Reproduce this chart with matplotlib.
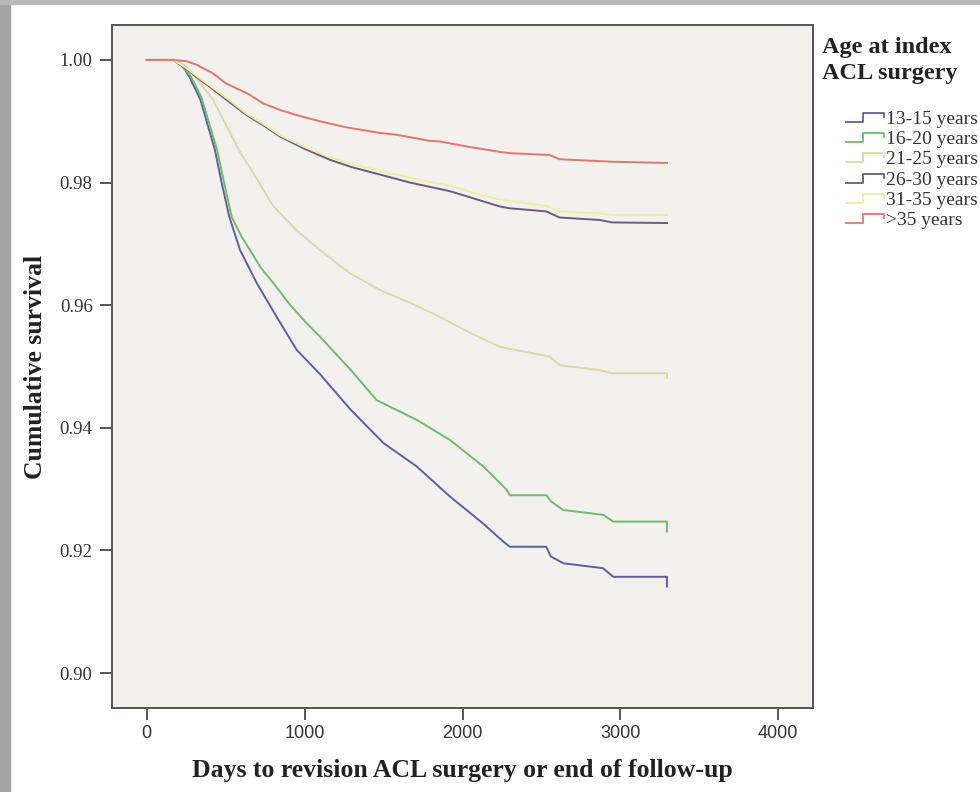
import matplotlib
matplotlib.use("Agg")
import matplotlib.pyplot as plt
from matplotlib.legend_handler import HandlerBase
from matplotlib.lines import Line2D
from matplotlib.patches import Rectangle

# survival curves (days, cumulative survival)
days_13_15 = [0, 170, 205, 240, 275, 340, 432, 475, 523, 591, 697, 823, 950, 1096, 1290, 1500,
              1710, 1920, 2130, 2260, 2300, 2530, 2560, 2640, 2890, 2955, 3295, 3295]
surv_13_15 = [1.0, 1.0, 0.9995, 0.9985, 0.9970, 0.9935, 0.9853, 0.9799, 0.9744, 0.9690, 0.9636,
              0.9581, 0.9527, 0.9488, 0.9430, 0.9375, 0.9337, 0.9288, 0.9244, 0.9214, 0.9206,
              0.9206, 0.9190, 0.9179, 0.9171, 0.9157, 0.9157, 0.9141]

days_16_20 = [0, 170, 205, 240, 280, 345, 446, 490, 538, 600, 654, 720, 802, 900, 1000, 1096,
              1290, 1457, 1710, 1921, 2132, 2280, 2300, 2533, 2560, 2638, 2892, 2955, 3295, 3295]
surv_16_20 = [1.0, 1.0, 0.9995, 0.9986, 0.9973, 0.9940, 0.9853, 0.9800, 0.9744, 0.9712, 0.9690,
              0.9662, 0.9636, 0.9603, 0.9574, 0.9549, 0.9495, 0.9445, 0.9413, 0.9380, 0.9337,
              0.9299, 0.9290, 0.9290, 0.9280, 0.9266, 0.9258, 0.9247, 0.9247, 0.9231]

days_21_25 = [0, 170, 210, 250, 300, 340, 420, 490, 590, 700, 800, 950, 1096, 1288, 1476, 1667,
              1856, 2047, 2236, 2552, 2615, 2869, 2947, 3295, 3295]
surv_21_25 = [1.0, 1.0, 0.9996, 0.9988, 0.9975, 0.9962, 0.9935, 0.9900, 0.9850, 0.9805, 0.9762,
              0.9722, 0.9690, 0.9652, 0.9625, 0.9604, 0.9581, 0.9555, 0.9532, 0.9516, 0.9502,
              0.9494, 0.9489, 0.9489, 0.9481]

days_26_30 = [0, 170, 200, 250, 300, 400, 530, 633, 740, 844, 1000, 1161, 1300, 1478, 1667, 1794,
              1920, 2047, 2236, 2300, 2530, 2615, 2869, 2947, 3295]
surv_26_30 = [1.0, 1.0, 0.9994, 0.9986, 0.9975, 0.9956, 0.9930, 0.9910, 0.9893, 0.9875, 0.9855,
              0.9837, 0.9825, 0.9813, 0.9800, 0.9793, 0.9786, 0.9776, 0.9761, 0.9758, 0.9753,
              0.9743, 0.9739, 0.9735, 0.9734]

days_31_35 = [0, 170, 200, 250, 300, 400, 530, 633, 740, 844, 1000, 1161, 1300, 1478, 1667, 1794,
              1920, 2047, 2236, 2300, 2530, 2615, 2869, 2947, 3295]
surv_31_35 = [1.0, 1.0, 0.9995, 0.9987, 0.9977, 0.9958, 0.9933, 0.9912, 0.9895, 0.9877, 0.9858,
              0.9841, 0.9830, 0.9819, 0.9808, 0.9801, 0.9795, 0.9785, 0.9772, 0.9770, 0.9762,
              0.9753, 0.9750, 0.9747, 0.9747]

days_35p = [0, 170, 250, 317, 420, 500, 640, 739, 850, 950, 1096, 1267, 1476, 1583, 1794,
            1856, 2047, 2236, 2300, 2552, 2615, 2869, 2947, 3295]
surv_35p = [1.0, 1.0, 0.9998, 0.9992, 0.9978, 0.9962, 0.9945, 0.9929, 0.9918, 0.9910, 0.9900,
            0.9890, 0.9881, 0.9878, 0.9868, 0.9867, 0.9858, 0.9850, 0.9848, 0.9845, 0.9838,
            0.9835, 0.9834, 0.9832]

labels = ["13-15 years", "16-20 years", "21-25 years", "26-30 years", "31-35 years", ">35 years"]
colors = ["#5b5fa6", "#6cbd6a", "#dcd9a9", "#6c5a82", "#f0ee9c", "#e4766c"]
series = [(days_13_15, surv_13_15), (days_16_20, surv_16_20), (days_21_25, surv_21_25),
          (days_26_30, surv_26_30), (days_31_35, surv_31_35), (days_35p, surv_35p)]

x_ticks = [0, 1000, 2000, 3000, 4000]
y_ticks = [0.90, 0.92, 0.94, 0.96, 0.98, 1.00]


class StepHandler(HandlerBase):
    # small step-shaped legend key like the SPSS output
    def create_artists(self, legend, orig_handle, xdescent, ydescent, width, height, fontsize, trans):
        x0 = -xdescent
        ylo = -ydescent + height * 0.15
        yhi = -ydescent + height * 0.8
        xs = [x0, x0 + width * 0.45, x0 + width * 0.45, x0 + width, x0 + width]
        ys = [ylo, ylo, yhi, yhi, yhi - height * 0.3]
        ln = Line2D(xs, ys, color=orig_handle.get_color(), lw=1.3, transform=trans)
        return [ln]


fig = plt.figure(figsize=(9.8, 7.92), dpi=100)
fig.patch.set_facecolor("white")
# grey slide border on the left and top
fig.patches.append(Rectangle((0, 0), 10 / 980, 1, transform=fig.transFigure, color="#a4a4a4", zorder=0))
fig.patches.append(Rectangle((0, 1 - 4 / 792), 1, 4 / 792, transform=fig.transFigure, color="#b8b8b8", zorder=0))

ax = fig.add_axes([112 / 980, 1 - 708 / 792, (813 - 112) / 980, (708 - 25) / 792])
ax.set_facecolor("#f3f1ee")

handles = []
for (d, s), lab, col in zip(series, labels, colors):
    h, = ax.plot(d, s, color=col, lw=1.4, label=lab)
    handles.append(h)

ax.set_xlim(-220, 4220)
ax.set_ylim(0.8943, 1.0057)
ax.set_xticks(x_ticks)
ax.set_yticks(y_ticks)
ax.set_xticklabels([str(t) for t in x_ticks], fontfamily="Liberation Sans", fontsize=13, color="#333333")
ax.set_yticklabels(["%.2f" % t for t in y_ticks], fontfamily="Liberation Serif", fontsize=13.5, color="#333333")
ax.tick_params(direction="out", length=8.5, width=1.4, color="#555555")
ax.tick_params(axis="y", pad=5.5)
ax.tick_params(axis="x", pad=4)
for sp in ax.spines.values():
    sp.set_color("#555555")
    sp.set_linewidth(1.4)

ax.set_xlabel("Days to revision ACL surgery or end of follow-up", fontfamily="Liberation Serif",
              fontweight="bold", fontsize=18.5, color="#222222", labelpad=12)
ax.set_ylabel("Cumulative survival", fontfamily="Liberation Serif", fontweight="bold",
              fontsize=18.5, color="#222222", labelpad=9)

fig.text(822 / 980, 1 - 37 / 792, "Age at index\nACL surgery", ha="left", va="top",
         fontfamily="Liberation Serif", fontweight="bold", fontsize=17.5, color="#222222",
         linespacing=1.3)

leg = fig.legend(handles=handles, labels=labels, loc="upper left",
                 bbox_to_anchor=(846 / 980, 1 - 110 / 792), frameon=False,
                 handler_map={Line2D: StepHandler()}, handlelength=1.95, handletextpad=0.1,
                 labelspacing=0.14, borderaxespad=0, borderpad=0,
                 prop={"family": "Liberation Serif", "size": 14})
for t in leg.get_texts():
    t.set_color("#333333")

fig.savefig("out.png", dpi=100)
